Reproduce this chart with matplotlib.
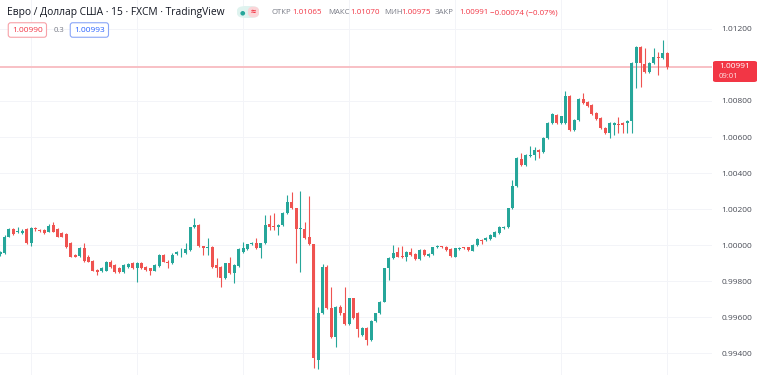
import matplotlib
matplotlib.use('Agg')
import matplotlib.pyplot as plt
from matplotlib.patches import FancyBboxPatch
import numpy as np

# ---------------- data (EUR/USD, 15 min candles) ----------------
opens = [0.99950, 0.99957, 1.00046, 1.00087, 1.00072, 1.00067, 1.00087, 1.00009, 1.00093, 1.00083,
         1.00083, 1.00074, 1.00111, 1.00087, 1.00065, 1.00059, 1.00009, 0.99944, 0.99939, 0.99982,
         0.99935, 0.99913, 0.99861, 0.99856, 0.99857, 0.99907, 0.99889, 0.99872, 0.99852, 0.99879,
         0.99898, 0.99871, 0.99902, 0.99879, 0.99871, 0.99857, 0.99883, 0.99944, 0.99907, 0.99898,
         0.99950, 0.99959, 0.99954, 0.99972, 1.00098, 1.00111, 0.99994, 0.99982, 0.99991, 0.99889,
         0.99879, 0.99815, 0.99898, 0.99846, 0.99883, 0.99963, 0.99976, 1.00004, 1.00013, 0.99982,
         1.00009, 1.00115, 1.00107, 1.00098, 1.00111, 1.00176, 1.00237, 1.00204, 1.00087, 1.00087,
         1.00043, 1.00004, 0.99361, 0.99621, 0.99879, 0.99648, 0.99491, 0.99657, 0.99624, 0.99561,
         0.99704, 0.99621, 0.99500, 0.99537, 0.99472, 0.99578, 0.99621, 0.99685, 0.99871, 0.99926,
         0.99963, 0.99941, 0.99932, 0.99963, 0.99950, 0.99921, 0.99972, 0.99939, 0.99948, 0.99989,
         0.99993, 0.99991, 0.99976, 0.99935, 0.99978, 0.99987, 0.99987, 0.99968, 1.00000, 1.00028,
         1.00028, 1.00033, 1.00046, 1.00065, 1.00093, 1.00098, 1.00204, 1.00326, 1.00479, 1.00443,
         1.00493, 1.00498, 1.00526, 1.00517, 1.00594, 1.00678, 1.00724, 1.00678, 1.00678, 1.00829,
         1.00641, 1.00696, 1.00811, 1.00794, 1.00776, 1.00733, 1.00706, 1.00650, 1.00622, 1.00665,
         1.00672, 1.00678, 1.00678, 1.00687, 1.01011, 1.01102, 1.01006, 1.00963, 1.01009, 1.01046,
         1.01041, 1.01065]
highs = [0.99967, 1.00056, 1.00096, 1.00094, 1.00102, 1.00087, 1.00094, 1.00100, 1.00102, 1.00089,
         1.00089, 1.00117, 1.00129, 1.00094, 1.00072, 1.00067, 1.00017, 0.99950, 0.99989, 1.00009,
         0.99944, 0.99917, 0.99867, 0.99878, 0.99911, 0.99917, 0.99894, 0.99878, 0.99894, 0.99900,
         0.99906, 0.99906, 0.99906, 0.99883, 0.99875, 0.99894, 0.99950, 0.99950, 0.99914, 0.99956,
         0.99967, 0.99982, 1.00009, 1.00100, 1.00148, 1.00117, 0.99997, 1.00037, 0.99994, 0.99926,
         0.99883, 0.99900, 0.99932, 0.99894, 0.99983, 1.00018, 1.00008, 1.00017, 1.00041, 1.00013,
         1.00167, 1.00167, 1.00176, 1.00117, 1.00181, 1.00278, 1.00293, 1.00208, 1.00302, 1.00129,
         1.00272, 1.00006, 0.99657, 0.99894, 0.99889, 0.99768, 0.99661, 0.99667, 0.99768, 0.99708,
         0.99708, 0.99628, 0.99542, 0.99542, 0.99583, 0.99625, 0.99689, 0.99875, 0.99931, 1.00000,
         0.99991, 0.99994, 0.99967, 0.99982, 0.99954, 0.99978, 0.99978, 0.99954, 0.99991, 1.00000,
         0.99997, 0.99994, 0.99981, 0.99986, 0.99989, 0.99991, 0.99991, 1.00006, 1.00037, 1.00032,
         1.00044, 1.00061, 1.00078, 1.00103, 1.00106, 1.00208, 1.00361, 1.00489, 1.00511, 1.00503,
         1.00548, 1.00543, 1.00531, 1.00600, 1.00683, 1.00733, 1.00728, 1.00719, 1.00854, 1.00833,
         1.00700, 1.00817, 1.00844, 1.00800, 1.00781, 1.00739, 1.00711, 1.00656, 1.00683, 1.00683,
         1.00709, 1.00683, 1.00692, 1.01017, 1.01103, 1.01106, 1.01093, 1.01014, 1.01093, 1.01074,
         1.01139, 1.01070]
lows = [0.99939, 0.99950, 1.00044, 1.00056, 1.00065, 1.00061, 1.00006, 0.99994, 1.00079, 1.00072,
        1.00061, 1.00072, 1.00072, 1.00044, 1.00042, 0.99986, 0.99931, 0.99931, 0.99933, 0.99908,
        0.99903, 0.99853, 0.99833, 0.99850, 0.99853, 0.99875, 0.99847, 0.99847, 0.99847, 0.99875,
        0.99867, 0.99796, 0.99867, 0.99856, 0.99833, 0.99853, 0.99878, 0.99903, 0.99871, 0.99894,
        0.99944, 0.99935, 0.99950, 0.99967, 1.00094, 0.99989, 0.99944, 0.99944, 0.99875, 0.99824,
        0.99765, 0.99811, 0.99839, 0.99787, 0.99878, 0.99958, 0.99972, 1.00000, 0.99978, 0.99926,
        1.00006, 1.00083, 1.00083, 1.00056, 1.00106, 1.00172, 1.00200, 0.99898, 0.99852, 1.00033,
        1.00000, 0.99315, 0.99309, 0.99617, 0.99644, 0.99486, 0.99435, 0.99611, 0.99556, 0.99556,
        0.99589, 0.99491, 0.99494, 0.99444, 0.99467, 0.99572, 0.99617, 0.99681, 0.99806, 0.99922,
        0.99931, 0.99928, 0.99913, 0.99939, 0.99917, 0.99917, 0.99939, 0.99933, 0.99944, 0.99982,
        0.99983, 0.99967, 0.99933, 0.99931, 0.99974, 0.99979, 0.99967, 0.99964, 0.99994, 1.00006,
        1.00022, 1.00028, 1.00042, 1.00061, 1.00089, 1.00094, 1.00200, 1.00322, 1.00439, 1.00439,
        1.00489, 1.00474, 1.00483, 1.00511, 1.00589, 1.00672, 1.00672, 1.00672, 1.00672, 1.00636,
        1.00636, 1.00689, 1.00783, 1.00767, 1.00722, 1.00697, 1.00644, 1.00617, 1.00594, 1.00613,
        1.00622, 1.00622, 1.00622, 1.00622, 1.00872, 1.00879, 1.00958, 1.00958, 1.01006, 1.00944,
        1.01036, 1.00975]
closes = [0.99961, 1.00046, 1.00087, 1.00059, 1.00078, 1.00078, 1.00009, 1.00096, 1.00087, 1.00079,
          1.00068, 1.00106, 1.00074, 1.00046, 1.00046, 0.99991, 0.99935, 0.99935, 0.99982, 0.99913,
          0.99907, 0.99857, 0.99852, 0.99871, 0.99904, 0.99879, 0.99852, 0.99852, 0.99889, 0.99894,
          0.99871, 0.99902, 0.99871, 0.99861, 0.99857, 0.99889, 0.99944, 0.99907, 0.99898, 0.99944,
          0.99963, 0.99963, 0.99976, 1.00098, 1.00111, 0.99994, 0.99985, 0.99991, 0.99879, 0.99871,
          0.99815, 0.99898, 0.99843, 0.99889, 0.99978, 0.99982, 1.00004, 1.00013, 0.99982, 1.00009,
          1.00111, 1.00102, 1.00098, 1.00111, 1.00176, 1.00237, 1.00204, 1.00087, 1.00096, 1.00037,
          1.00004, 0.99371, 0.99621, 0.99879, 0.99648, 0.99491, 0.99657, 0.99621, 0.99561, 0.99704,
          0.99593, 0.99532, 0.99537, 0.99472, 0.99578, 0.99621, 0.99685, 0.99871, 0.99926, 0.99957,
          0.99935, 0.99932, 0.99963, 0.99944, 0.99921, 0.99972, 0.99944, 0.99948, 0.99987, 0.99993,
          0.99989, 0.99972, 0.99939, 0.99982, 0.99985, 0.99983, 0.99972, 1.00000, 1.00032, 1.00022,
          1.00041, 1.00056, 1.00074, 1.00098, 1.00102, 1.00204, 1.00328, 1.00483, 1.00443, 1.00498,
          1.00502, 1.00529, 1.00517, 1.00594, 1.00678, 1.00728, 1.00678, 1.00715, 1.00829, 1.00641,
          1.00696, 1.00811, 1.00789, 1.00771, 1.00728, 1.00702, 1.00650, 1.00622, 1.00678, 1.00678,
          1.00668, 1.00668, 1.00687, 1.01011, 1.01098, 1.01009, 1.00963, 1.01009, 1.01046, 1.01037,
          1.01065, 1.00991]

price_ticks = [0.994, 0.996, 0.998, 1.000, 1.002, 1.004, 1.006, 1.008, 1.010, 1.012]
time_grid_idx = [7, 31, 55, 79, 103, 127, 151]   # 6-hour session lines

title = "Евро / Доллар США · 15 · FXCM · TradingView"
ohlc_names = ["ОТКР", "МАКС", "МИН", "ЗАКР"]
ohlc_values = ["1.01065", "1.01070", "1.00975", "1.00991"]
change_text = "−0.00074 (−0.07%)"
bid_text, spread_text, ask_text = "1.00990", "0.3", "1.00993"
last_price = 1.00991
last_label, countdown = "1.00991", "09:01"

# ---------------- style ----------------
GREEN = '#26a69a'
RED = '#ef5350'
GRID = '#f3f4f8'
W, H = 758, 375
plt.rcParams['font.family'] = ['Open Sans', 'DejaVu Sans']

fig = plt.figure(figsize=(W / 100, H / 100), dpi=100)
fig.patch.set_facecolor('white')
ax = fig.add_axes([0, 0, 712 / W, 1])

# grid (the 1.010 level is hidden by the last-price line)
for v in price_ticks:
    if abs(v - last_price) > 0.0005:
        ax.axhline(v, color=GRID, lw=0.7, zorder=0)
for t in time_grid_idx:
    ax.axvline(t, color=GRID, lw=0.7, zorder=0)

n = len(opens)
x = np.arange(n)
o = np.array(opens); h = np.array(highs); l = np.array(lows); c = np.array(closes)
cols = [GREEN if cc >= oo else RED for oo, cc in zip(o, c)]

ax.vlines(x, l, h, colors=cols, linewidth=0.8, zorder=3)
body = np.maximum(np.abs(c - o), 0.000025)
ax.bar(x, body, bottom=np.minimum(o, c), width=0.68, color=cols, linewidth=0, zorder=4)

ax.axhline(last_price, color='#f8c0c5', lw=1.4, zorder=2)

ax.set_xlim(-0.02, 161.17)
ax.set_ylim(0.992778, 1.013611)
ax.set_yticks(price_ticks)
# the 1.01000 label sits under the last-price tag
ax.set_yticklabels(["" if abs(v - 1.010) < 1e-9 else f"{v:.5f}" for v in price_ticks])
ax.yaxis.tick_right()
ax.tick_params(axis='y', length=0, pad=7, labelsize=6.0, labelcolor='#4a4d57')
ax.set_xticks([])
for s in ax.spines.values():
    s.set_visible(False)
ax.set_facecolor('white')


def fx(px):
    return px / W


def fy(py):
    return 1 - py / H


# header
fig.text(fx(7), fy(12.5), title, fontsize=7.4, color='#131722', va='center', ha='left')

# status pill
fig.patches.append(FancyBboxPatch((fx(237), fy(18)), fx(22), 12 / H,
                                  boxstyle='round,pad=0,rounding_size=0.012',
                                  transform=fig.transFigure, facecolor='#dff3ef', edgecolor='none'))
fig.patches.append(FancyBboxPatch((fx(248), fy(18)), fx(11), 12 / H,
                                  boxstyle='round,pad=0,rounding_size=0.012',
                                  transform=fig.transFigure, facecolor='#fbd5d8', edgecolor='none'))
fig.text(fx(242.5), fy(12.5), "●", fontsize=4.5, color=GREEN, ha='center', va='center')
fig.text(fx(253.5), fy(12.5), "≈", fontsize=6.5, color='#f23645', ha='center', va='center',
         fontweight='bold')

# OHLC legend
name_x = [272, 328, 384, 435]
val_x = [292, 350, 401, 459]
for nm, vl, nx, vx in zip(ohlc_names, ohlc_values, name_x, val_x):
    fig.text(fx(nx), fy(13), nm, fontsize=5.6, color='#787b86', va='center', ha='left')
    fig.text(fx(vx), fy(13), vl, fontsize=5.8, color='#f23645', va='center', ha='left')
fig.text(fx(490), fy(13), change_text, fontsize=5.8, color='#f23645', va='center', ha='left')

# bid / spread / ask
fig.text(fx(12), fy(30), bid_text, fontsize=6.0, color='#f23645', va='center', ha='left',
         bbox=dict(boxstyle='round,pad=0.45,rounding_size=0.3', fc='white', ec='#f7a1a8', lw=0.8))
fig.text(fx(54), fy(30), spread_text, fontsize=5.6, color='#787b86', va='center', ha='left')
fig.text(fx(74), fy(30), ask_text, fontsize=6.0, color='#2962ff', va='center', ha='left',
         bbox=dict(boxstyle='round,pad=0.45,rounding_size=0.3', fc='white', ec='#8aa6f7', lw=0.8))

# last price tag
fig.patches.append(FancyBboxPatch((fx(713), fy(82)), fx(44), 21 / H,
                                  boxstyle='round,pad=0,rounding_size=0.004',
                                  transform=fig.transFigure, facecolor='#f23645', edgecolor='none'))
fig.text(fx(719), fy(66.5), last_label, fontsize=6.0, color='white', va='center', ha='left')
fig.text(fx(719), fy(76), countdown, fontsize=5.6, color='#fde0e2', va='center', ha='left')

fig.savefig('out.png', dpi=100, facecolor='white')
